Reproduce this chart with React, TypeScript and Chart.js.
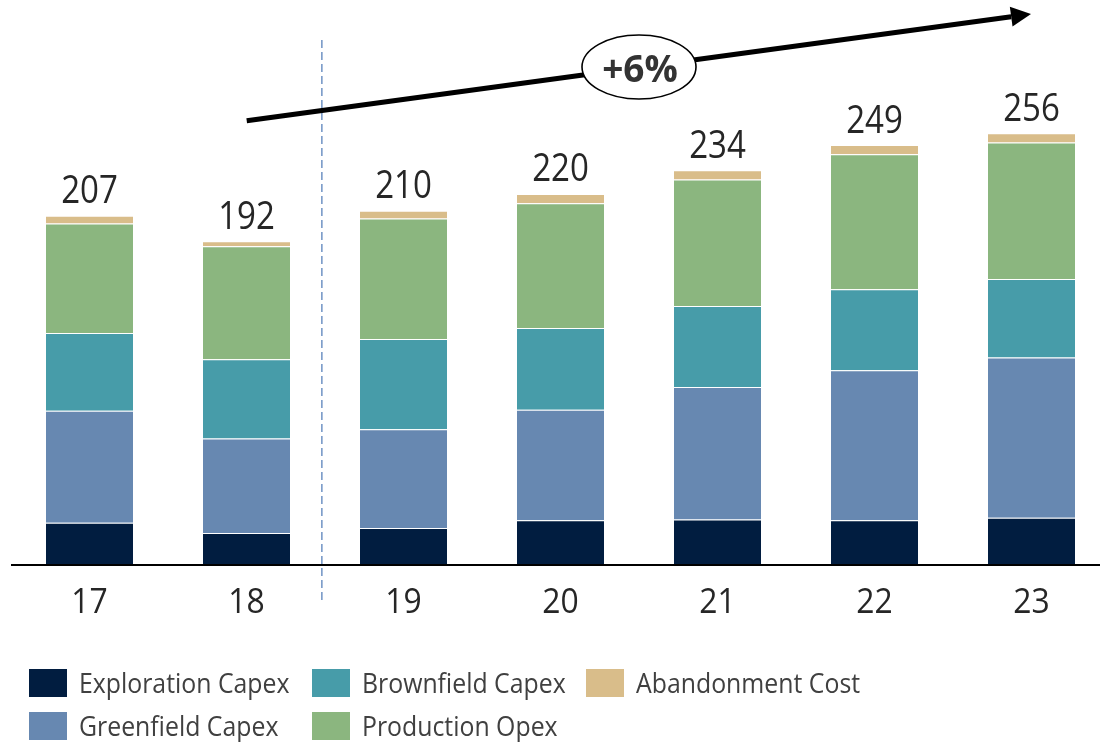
import React, { useEffect, useRef } from "react";
import { Chart, registerables } from "chart.js";

Chart.register(...registerables);

// Years (20xx) along the bottom
const years = ["17", "18", "19", "20", "21", "22", "23"];

// Spend by component, US$ bn
const explorationCapex = [25, 19, 22, 26.5, 27, 26.5, 28];
const greenfieldCapex = [66.5, 56, 58.5, 65.5, 78.5, 89, 95];
const brownfieldCapex = [46, 47, 53.5, 48.5, 48, 48, 46.5];
const productionOpex = [65, 67, 71.5, 74, 75, 80, 81];
const abandonmentCost = [4.5, 3, 4.5, 5.5, 5.5, 5.5, 5.5];

// Totals written above each bar
const totals = [207, 192, 210, 220, 234, 249, 256];

const growthLabel = "+6%";

const seriesNames = [
  "Exploration Capex",
  "Greenfield Capex",
  "Brownfield Capex",
  "Production Opex",
  "Abandonment Cost",
];
const seriesColors = ["#011d40", "#6788b1", "#479ca9", "#8bb67f", "#d9bd8a"];

const FONT = "'Open Sans', 'DejaVu Sans', sans-serif";

function squeezedText(
  ctx: CanvasRenderingContext2D,
  text: string,
  x: number,
  y: number,
  font: string,
  color: string,
  align: CanvasTextAlign,
  sx: number
) {
  ctx.save();
  ctx.translate(x, y);
  ctx.scale(sx, 1);
  ctx.font = font;
  ctx.fillStyle = color;
  ctx.textAlign = align;
  ctx.textBaseline = "alphabetic";
  ctx.fillText(text, 0, 0);
  ctx.restore();
}

const decorations = {
  id: "decorations",
  afterDatasetsDraw(chart: any) {
    const ctx: CanvasRenderingContext2D = chart.ctx;
    const xs = chart.scales.x;
    const ys = chart.scales.y;
    const area = chart.chartArea;

    // baseline
    ctx.save();
    ctx.strokeStyle = "#000";
    ctx.lineWidth = 2;
    ctx.beginPath();
    ctx.moveTo(area.left, area.bottom);
    ctx.lineTo(area.right, area.bottom);
    ctx.stroke();
    ctx.restore();

    // year labels
    years.forEach((y, i) => {
      squeezedText(ctx, y, xs.getPixelForValue(i), area.bottom + 48, `35px ${FONT}`, "#262626", "center", 0.91);
    });

    // totals above bars
    totals.forEach((t, i) => {
      const top = ys.getPixelForValue(t);
      squeezedText(ctx, String(t), xs.getPixelForValue(i), top - 12.5, `38px ${FONT}`, "#262626", "center", 0.87);
    });

    // divider between actuals and outlook
    const dx = xs.getPixelForValue(1.48);
    ctx.save();
    ctx.strokeStyle = "#7093c4";
    ctx.lineWidth = 1.5;
    ctx.setLineDash([8, 4]);
    ctx.beginPath();
    ctx.moveTo(dx, 40);
    ctx.lineTo(dx, 600);
    ctx.stroke();
    ctx.restore();

    // growth arrow
    const sx0 = 246.7, sy0 = 120.7, tx = 1031, ty = 14;
    const ang = Math.atan2(ty - sy0, tx - sx0);
    const headLen = 20, headHalf = 10;
    const bx = tx - headLen * Math.cos(ang), by = ty - headLen * Math.sin(ang);
    ctx.save();
    ctx.strokeStyle = "#000";
    ctx.fillStyle = "#000";
    ctx.lineWidth = 5;
    ctx.beginPath();
    ctx.moveTo(sx0, sy0);
    ctx.lineTo(bx, by);
    ctx.stroke();
    ctx.beginPath();
    ctx.moveTo(tx, ty);
    ctx.lineTo(bx + headHalf * Math.sin(ang), by - headHalf * Math.cos(ang));
    ctx.lineTo(bx - headHalf * Math.sin(ang), by + headHalf * Math.cos(ang));
    ctx.closePath();
    ctx.fill();

    // growth badge
    ctx.beginPath();
    ctx.ellipse(639, 67, 57, 32, 0, 0, Math.PI * 2);
    ctx.fillStyle = "#fff";
    ctx.fill();
    ctx.lineWidth = 1.6;
    ctx.strokeStyle = "#000";
    ctx.stroke();
    ctx.restore();
    squeezedText(ctx, growthLabel, 640, 81.5, `bold 37px ${FONT}`, "#333", "center", 1);

    // legend: two rows, filled column by column
    const colX = [29, 312, 586];
    const rowY = [683, 726];
    chart.data.datasets.forEach((ds: any, i: number) => {
      const c = Math.floor(i / 2);
      const r = i % 2;
      const x = colX[c];
      const y = rowY[r];
      ctx.fillStyle = ds.backgroundColor;
      ctx.fillRect(x, y - 14, 38, 28);
      squeezedText(ctx, ds.label, x + 50, y + 10, `27px ${FONT}`, "#404040", "left", 0.92);
    });
  },
};

export default function App() {
  const ref = useRef<HTMLCanvasElement | null>(null);

  useEffect(() => {
    if (!ref.current) return;
    const series = [explorationCapex, greenfieldCapex, brownfieldCapex, productionOpex, abandonmentCost];
    const chart = new Chart(ref.current, {
      type: "bar",
      data: {
        labels: years,
        datasets: series.map((d, i) => ({
          label: seriesNames[i],
          data: d,
          backgroundColor: seriesColors[i],
          borderColor: "rgba(255,255,255,0.35)",
          borderWidth: { top: 1, left: 0, right: 0, bottom: 0 },
          borderSkipped: false,
          categoryPercentage: 1,
          barPercentage: 87 / 157,
        })),
      },
      options: {
        animation: false,
        responsive: false,
        maintainAspectRatio: false,
        layout: { padding: { left: 11, right: 10, top: 59, bottom: 177 } },
        plugins: {
          legend: { display: false },
          tooltip: { enabled: false },
          title: { display: false },
        },
        scales: {
          x: { stacked: true, display: false },
          y: { stacked: true, display: false, min: 0, max: 300 },
        },
      },
      plugins: [decorations],
    });
    return () => chart.destroy();
  }, []);

  return (
    <div
      style={{
        position: "absolute",
        left: 0,
        top: 0,
        width: 1100,
        height: 742,
        overflow: "hidden",
        background: "#fff",
      }}
    >
      <canvas ref={ref} width={1120} height={742} style={{ width: 1120, height: 742, display: "block" }} />
    </div>
  );
}
